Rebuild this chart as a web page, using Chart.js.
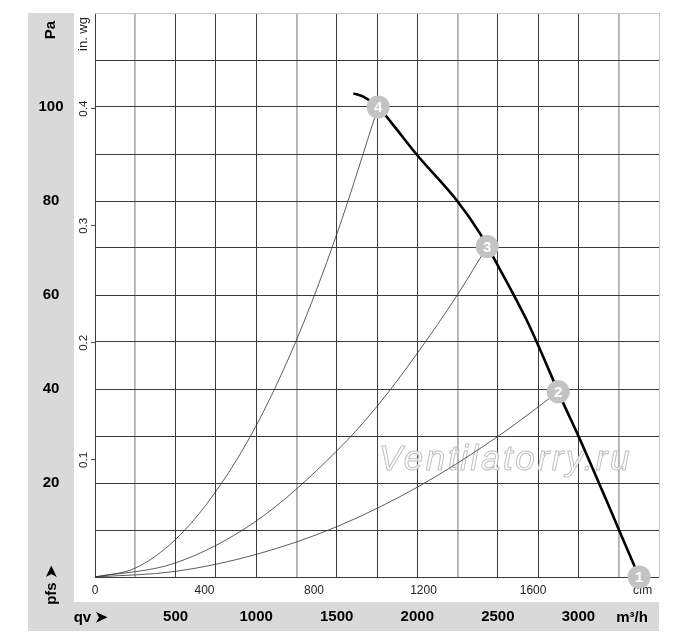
<!DOCTYPE html>
<html>
<head>
<meta charset="utf-8">
<script src="https://cdn.jsdelivr.net/npm/chart.js@4.4.1/dist/chart.umd.min.js"></script>
<style>
html,body{margin:0;padding:0;background:#fff;}
#wrap{width:700px;height:643px;position:relative;}
</style>
</head>
<body>
<div id="wrap"><canvas id="c"></canvas></div>
<script>
const FONT = "'Liberation Sans', Arial, Helvetica, sans-serif";

// ---- tick labels ----
const flowTickLabels = [500, 1000, 1500, 2000, 2500, 3000];   // m³/h
const cfmTickLabels  = [0, 400, 800, 1200, 1600];              // cfm
const cfmUnitTick    = 2000;                                   // where "cfm" sits
const paTickLabels   = [20, 40, 60, 80, 100];                  // Pa
const inwgTickLabels = [0.1, 0.2, 0.3, 0.4];                   // in. wg
const lightFlowLines = [250, 1250, 2250, 3250];

const FLOW_MAX = 3500, PA_MAX = 120;
const M3H_PER_CFM = 1.699, PA_PER_INWG = 249.089;

// ---- series (m³/h, Pa) ----
const sys4Flow = [0, 250, 500, 750, 1000, 1250, 1500, 1757];
const sys4Pa   = [0, 1.9, 8.0, 18.2, 32.2, 50.4, 72.9, 100];
const sys3Flow = [0, 500, 1000, 1500, 1750, 2000, 2250, 2434];
const sys3Pa   = [0, 3.0, 11.9, 26.8, 36.3, 47.6, 60.1, 70.3];
const sys2Flow = [0, 500, 1000, 1500, 2000, 2500, 2875];
const sys2Pa   = [0, 1.2, 4.8, 10.7, 19.1, 29.9, 39.4];
const fanFlow  = [1603, 1665, 1757, 1850, 1996, 2248, 2389, 2471, 2674, 2741, 2906, 3000, 3175, 3253, 3377];
const fanPa    = [102.9, 102.2, 100, 96.2, 89.9, 80, 73.1, 68.1, 55, 50.0, 37.0, 30.0, 16.2, 9.9, 0];
const opFlow   = [1757, 2434, 2875, 3377];
const opPa     = [100, 70.3, 39.4, 0];
const opLabels = ['4', '3', '2', '1'];

const pts = (xs, ys) => xs.map((x, i) => ({x: x, y: ys[i]}));
const noPad = s => { s.paddingTop = 0; s.paddingBottom = 0; s.paddingLeft = 0; s.paddingRight = 0; };

const decor = {
  id: 'decor',
  beforeDraw(chart) {
    const {ctx, chartArea: a, scales} = chart;
    const ys = scales.y, xs = scales.x;
    ctx.save();
    ctx.fillStyle = '#fff';
    ctx.fillRect(0, 0, chart.width, chart.height);
    ctx.fillStyle = '#d9d9d9';
    ctx.fillRect(ys.left, a.top, ys.right - ys.left, xs.top - a.top);
    ctx.fillRect(ys.left, xs.top, a.right - ys.left, xs.bottom - xs.top);
    ctx.restore();
  },
  beforeDatasetsDraw(chart) {
    const {ctx, chartArea: a} = chart;
    ctx.save();
    ctx.font = "italic 35px " + FONT;
    try { ctx.letterSpacing = '2.6px'; } catch (e) {}
    ctx.textAlign = 'center';
    ctx.textBaseline = 'alphabetic';
    const cx = a.left + (a.right - a.left) * 0.728, cy = a.bottom - 107;
    ctx.fillStyle = 'rgba(255,255,255,0.85)';
    ctx.fillText('Ventilatorry.ru', cx, cy);
    ctx.strokeStyle = '#c0c0c0';
    ctx.lineWidth = 1;
    ctx.strokeText('Ventilatorry.ru', cx, cy);
    ctx.restore();
  },
  afterDatasetsDraw(chart) {
    const {ctx} = chart;
    const meta = chart.getDatasetMeta(0);
    ctx.save();
    ctx.fillStyle = '#fff';
    ctx.font = "bold 15px " + FONT;
    ctx.textAlign = 'center';
    ctx.textBaseline = 'middle';
    meta.data.forEach((el, i) => ctx.fillText(opLabels[i], el.x, el.y + 1));
    ctx.restore();
  },
  afterDraw(chart) {
    const {ctx, chartArea: a, scales} = chart;
    const ys = scales.y, xs = scales.x;
    const cxBand = (ys.left + ys.right) / 2;
    const rot = (txt, x, y, font, color) => {
      ctx.save();
      ctx.translate(x, y);
      ctx.rotate(-Math.PI / 2);
      ctx.font = font; ctx.fillStyle = color;
      ctx.textAlign = 'center'; ctx.textBaseline = 'middle';
      ctx.fillText(txt, 0, 0);
      ctx.restore();
    };
    rot('Pa', cxBand, a.top + 17, "bold 15px " + FONT, '#000');
    rot('in. wg', scales.y2.right - 12, a.top + 21, "13px " + FONT, '#222');
    rot('pfs \u27A4', cxBand + 1, a.bottom + 8, "bold 15px " + FONT, '#000');
    ctx.save();
    ctx.font = "bold 15px " + FONT; ctx.fillStyle = '#000';
    ctx.textAlign = 'center'; ctx.textBaseline = 'middle';
    const yb = (xs.top + xs.bottom) / 2 + 1;
    ctx.fillText('qv \u27A4', a.left - 4, yb);
    ctx.fillText('m\u00B3/h', a.right - 27, yb);
    ctx.restore();
  }
};

new Chart(document.getElementById('c'), {
  type: 'scatter',
  data: {
    datasets: [
      { label: 'points', data: pts(opFlow, opPa), showLine: false, order: 0, clip: false,
        pointRadius: 11.5, pointHoverRadius: 11.5, pointBackgroundColor: '#c3c3c3', pointBorderWidth: 0 },
      { label: 'fan', data: pts(fanFlow, fanPa), showLine: true, order: 1, borderColor: '#000', borderWidth: 2.6,
        pointRadius: 0, cubicInterpolationMode: 'monotone' },
      { label: 'sys4', data: pts(sys4Flow, sys4Pa), showLine: true, order: 2, borderColor: '#333', borderWidth: 0.8,
        pointRadius: 0, cubicInterpolationMode: 'monotone' },
      { label: 'sys3', data: pts(sys3Flow, sys3Pa), showLine: true, order: 2, borderColor: '#333', borderWidth: 0.8,
        pointRadius: 0, cubicInterpolationMode: 'monotone' },
      { label: 'sys2', data: pts(sys2Flow, sys2Pa), showLine: true, order: 2, borderColor: '#333', borderWidth: 0.8,
        pointRadius: 0, cubicInterpolationMode: 'monotone' }
    ]
  },
  options: {
    responsive: true, maintainAspectRatio: false, animation: false, events: [],
    layout: { padding: { left: 28, right: 41, top: 13, bottom: 12 } },
    plugins: { legend: { display: false }, tooltip: { enabled: false } },
    scales: {
      x: {
        type: 'linear', position: 'bottom', weight: 1, min: 0, max: FLOW_MAX,
        ticks: { stepSize: 250, autoSkip: false, minRotation: 0, maxRotation: 0, padding: 6, color: '#000',
          font: { family: FONT, size: 15, weight: 'bold' },
          callback: v => flowTickLabels.includes(v) ? String(v) : '' },
        grid: { drawTicks: false,
          color: c => (c.tick && c.tick.value === FLOW_MAX) ? '#c4c4c4' : (c.tick && lightFlowLines.includes(c.tick.value)) ? '#b2b2b2' : '#3c3c3c',
          lineWidth: c => (c.tick && lightFlowLines.includes(c.tick.value)) ? 1.8 : 1 },
        border: { display: false },
        afterFit: s => { s.height = 29; noPad(s); }
      },
      x2: {
        type: 'linear', position: 'bottom', weight: 0, min: 0, max: FLOW_MAX / M3H_PER_CFM,
        afterBuildTicks: s => { s.ticks = cfmTickLabels.concat([cfmUnitTick]).map(v => ({value: v})); },
        ticks: { autoSkip: false, minRotation: 0, maxRotation: 0, padding: -2, color: '#222',
          font: { family: FONT, size: 12 },
          callback: v => v === cfmUnitTick ? 'cfm' : String(v) },
        grid: { display: false }, border: { display: false },
        afterFit: s => { s.height = 25; noPad(s); }
      },
      y: {
        type: 'linear', position: 'left', weight: 1, min: 0, max: PA_MAX,
        ticks: { stepSize: 10, autoSkip: false, padding: 10.5, crossAlign: 'center', color: '#000',
          font: { family: FONT, size: 15, weight: 'bold' },
          callback: v => paTickLabels.includes(v) ? String(v) : '' },
        grid: { drawTicks: false, color: c => (c.tick && c.tick.value === PA_MAX) ? '#c4c4c4' : '#3c3c3c', lineWidth: 1 },
        border: { display: false },
        afterFit: s => { s.width = 46; noPad(s); }
      },
      y2: {
        type: 'linear', position: 'left', weight: 0, min: 0, max: PA_MAX / PA_PER_INWG,
        afterBuildTicks: s => { s.ticks = inwgTickLabels.map(v => ({value: v})); },
        ticks: { autoSkip: false, minRotation: 90, maxRotation: 90, padding: -1, crossAlign: 'center', color: '#222',
          font: { family: FONT, size: 11.5 },
          callback: v => Number(v).toFixed(1) },
        grid: { drawOnChartArea: false, drawTicks: true, tickLength: 4, color: '#555' },
        border: { display: false },
        afterFit: s => { s.width = 21; noPad(s); }
      }
    }
  },
  plugins: [decor]
});
</script>
</body>
</html>
